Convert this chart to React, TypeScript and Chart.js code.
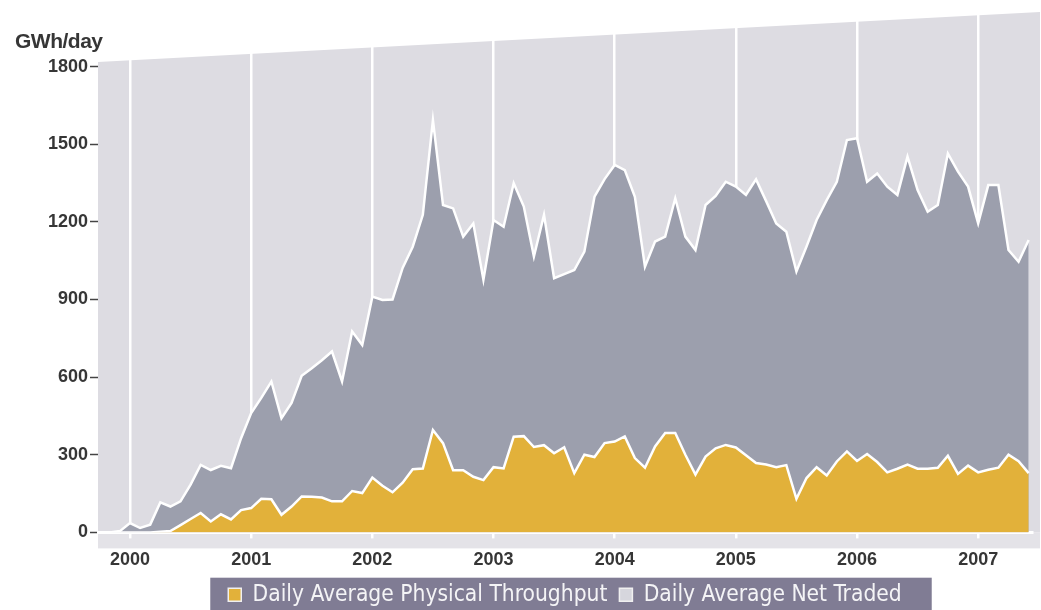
import React, { useEffect, useRef } from "react";
import { Chart, registerables } from "chart.js";

Chart.register(...registerables);

// Monthly series, first value = October 1999 (month offset -3 from January 2000)
const startMonthOffset = -3;

const yearLabels = ["2000", "2001", "2002", "2003", "2004", "2005", "2006", "2007"];
const yTickValues = [0, 300, 600, 900, 1200, 1500, 1800];
const seriesLabels = ["Daily Average Physical Throughput", "Daily Average Net Traded"];
const unitLabel = "GWh/day";

const physicalThroughput = [
  0, 0, 0, 0, 0, 0,
  3, 5, 28, 52, 75, 42, 70, 50, 86, 94,
  130, 128, 68, 100, 139, 138, 135, 120, 120, 160,
  152, 212, 180, 155, 192, 244, 247, 396, 345, 240,
  240, 215, 202, 252, 247, 370, 372, 330, 337, 306,
  329, 229, 300, 291, 345, 351, 371, 287, 250, 332,
  384, 384, 300, 223, 293, 325, 338, 328, 298, 268,
  262, 252, 260, 130, 210, 252, 220, 274, 313, 276,
  303, 272, 232, 246, 262, 246, 246, 250, 296, 226,
  258, 232, 242, 250, 300, 275, 229,
];

const netTraded = [
  0, 0, 5, 36, 17, 30,
  116, 100, 120, 185, 261, 241, 257, 248, 364, 461,
  520, 583, 441, 500, 605, 634, 665, 699, 583, 776,
  724, 911, 898, 900, 1022, 1104, 1227, 1593, 1265, 1252,
  1143, 1194, 976, 1207, 1181, 1349, 1259, 1066, 1227, 982,
  998, 1014, 1085, 1297, 1365, 1420, 1400, 1297, 1027, 1124,
  1143, 1291, 1143, 1091, 1265, 1300, 1355, 1336, 1304, 1364,
  1280, 1194, 1162, 1008, 1105, 1207, 1284, 1355, 1516, 1523,
  1355, 1387, 1336, 1304, 1452, 1323, 1239, 1265, 1464, 1394,
  1336, 1194, 1342, 1342, 1091, 1046, 1130,
];

const COLORS = {
  plotBg: "#dddce2",
  strip: "#e4e3e8",
  gray: "#9c9fad",
  yellow: "#e2b13a",
  legendBg: "#807c94",
  legendText: "#f4f4f6",
  axisText: "#363636",
};

const toPoints = (arr: number[]) => arr.map((v, i) => ({ x: startMonthOffset + i, y: v }));

const backgroundPlugin = {
  id: "perspectiveBackground",
  beforeDraw(chart: any) {
    const { ctx, chartArea: a } = chart;
    ctx.save();
    // plot background (slanted top edge like the original picture)
    ctx.fillStyle = COLORS.plotBg;
    ctx.beginPath();
    ctx.moveTo(a.left, 62);
    ctx.lineTo(a.right + 8, 12);
    ctx.lineTo(a.right + 8, a.bottom);
    ctx.lineTo(a.left, a.bottom);
    ctx.closePath();
    ctx.fill();
    // floor strip below the zero line
    ctx.fillStyle = COLORS.strip;
    ctx.fillRect(a.left, a.bottom, a.right + 8 - a.left, 16);
    // legend background bar
    const legend = chart.legend;
    if (legend && legend.legendHitBoxes && legend.legendHitBoxes.length) {
      const hb = legend.legendHitBoxes;
      const first = hb[0];
      const last = hb[hb.length - 1];
      const cy = first.top + first.height / 2;
      const left = first.left - 18;
      const right = last.left + last.width + 30;
      ctx.fillStyle = COLORS.legendBg;
      ctx.fillRect(left, cy - 17, right - left, 60);
    }
    ctx.restore();
  },
};

export default function App() {
  const canvasRef = useRef<HTMLCanvasElement | null>(null);

  useEffect(() => {
    document.body.style.margin = "0";
    const canvas = canvasRef.current;
    if (!canvas) return;
    const chart = new Chart(canvas, {
      type: "line",
      data: {
        datasets: [
          {
            label: seriesLabels[0],
            data: toPoints(physicalThroughput),
            backgroundColor: COLORS.yellow,
            borderColor: "#ffffff",
            borderWidth: 2.5,
            fill: "origin",
            pointRadius: 0,
            tension: 0,
          },
          {
            label: seriesLabels[1],
            data: toPoints(netTraded),
            backgroundColor: COLORS.gray,
            borderColor: "#ffffff",
            borderWidth: 2.5,
            fill: "origin",
            pointRadius: 0,
            tension: 0,
          },
        ],
      },
      options: {
        responsive: false,
        animation: false,
        devicePixelRatio: 1,
        layout: { padding: { left: 0, right: 9, top: 13, bottom: -6 } },
        interaction: { mode: "nearest", intersect: false },
        plugins: {
          tooltip: { enabled: false },
          title: { display: false },
          legend: {
            display: true,
            position: "bottom",
            fullSize: false,
            labels: {
              color: COLORS.legendText,
              font: { family: "'Liberation Sans Narrow', 'DejaVu Sans Condensed', 'Liberation Sans', sans-serif", size: 22.6 },
              boxWidth: 13,
              boxHeight: 13,
              padding: 12,
              generateLabels: (chart: any) => {
                const items = (Chart.defaults.plugins.legend.labels as any).generateLabels(chart);
                items.forEach((it: any, i: number) => {
                  it.fillStyle = i === 0 ? COLORS.yellow : "#d6d6dd";
                  it.strokeStyle = "#f0f0f0";
                  it.lineWidth = 1.5;
                  it.fontColor = COLORS.legendText;
                });
                return items;
              },
            },
          },
        },
        scales: {
          x: {
            type: "linear",
            min: -3.17,
            max: 89.33,
            afterBuildTicks: (axis: any) => {
              axis.ticks = yearLabels.map((_, i) => ({ value: i * 12 }));
            },
            afterFit: (axis: any) => {
              axis.height = 39;
            },
            ticks: {
              autoSkip: false,
              maxRotation: 0,
              padding: 11,
              color: COLORS.axisText,
              font: { family: "'Liberation Sans', Arial, sans-serif", size: 18, weight: "bold" },
              callback: (_v: any, i: number) => yearLabels[i],
            },
            grid: {
              color: "#ffffff",
              lineWidth: 2.5,
              drawTicks: true,
              tickLength: 6,
              tickColor: "#ffffff",
            },
            border: { display: true, color: "#ffffff", width: 3 },
          },
          y: {
            min: 0,
            max: 2007,
            afterBuildTicks: (axis: any) => {
              axis.ticks = yTickValues.map((v) => ({ value: v }));
            },
            afterFit: (axis: any) => {
              axis.width = 98;
            },
            ticks: {
              padding: 2,
              color: COLORS.axisText,
              font: { family: "'Liberation Sans', Arial, sans-serif", size: 18, weight: "bold" },
              callback: (v: any) => String(v),
            },
            grid: {
              drawOnChartArea: false,
              drawTicks: true,
              tickLength: 8,
              tickColor: "#444444",
              tickWidth: 1.5,
            },
            border: { display: false },
          },
        },
      },
      plugins: [backgroundPlugin],
    });
    return () => chart.destroy();
  }, []);

  return (
    <div style={{ position: "relative", width: 1041, height: 610, overflow: "hidden", background: "#ffffff" }}>
      <canvas ref={canvasRef} width={1041} height={610} style={{ display: "block", width: 1041, height: 610 }} />
      <div
        style={{
          position: "absolute",
          left: 15,
          top: 29,
          fontFamily: "'Liberation Sans', Arial, sans-serif",
          fontWeight: "bold",
          fontSize: 21,
          color: COLORS.axisText,
          lineHeight: "24px",
          letterSpacing: "-0.5px",
        }}
      >
        {unitLabel}
      </div>
    </div>
  );
}
